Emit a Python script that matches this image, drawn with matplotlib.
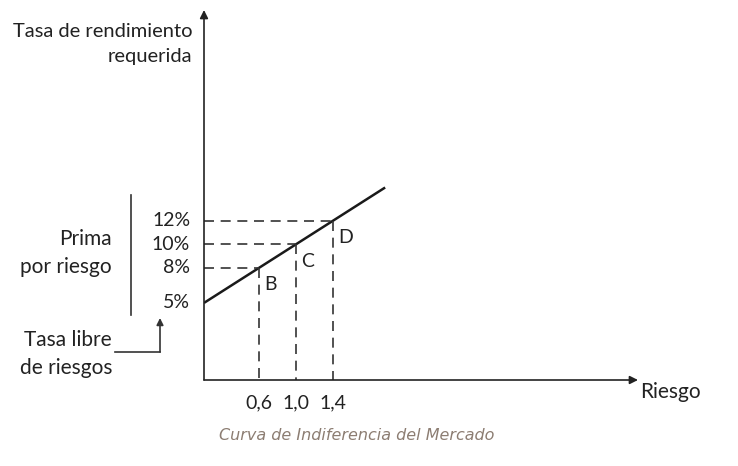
import matplotlib
matplotlib.use("Agg")
import matplotlib.pyplot as plt

plt.rcParams['font.family'] = ['Lato', 'DejaVu Sans']

# data: SML points (beta, required return %)
betas = [0.6, 1.0, 1.4]
returns = [8, 10, 12]
point_names = ["B", "C", "D"]
beta_labels = ["0,6", "1,0", "1,4"]
risk_free = 5
line_end = 1.97
ytick_vals = [12, 10, 8, 5]
ytick_labels = ["12%", "10%", "8%", "5%"]

W, H = 738, 466
fig = plt.figure(figsize=(W / 100, H / 100), dpi=100)


def fx(x, y):
    # pixel -> figure fraction
    return x / W, 1 - y / H


ax = fig.add_axes([204 / W, (H - 380) / H, (638 - 204) / W, (380 - 10) / H])
ax.set_xlim(0, 4.72)
ax.set_ylim(-1.58, 30.0)
ax.axis('off')

ink = "#222222"

# axes arrows
ax.annotate("", xy=(0, 30.0), xytext=(0, -1.58),
            arrowprops=dict(arrowstyle="-|>", color=ink, lw=1.2,
                            mutation_scale=12, shrinkA=0, shrinkB=0))
ax.annotate("", xy=(4.72, -1.58), xytext=(0, -1.58),
            arrowprops=dict(arrowstyle="-|>", color=ink, lw=1.2,
                            mutation_scale=12, shrinkA=0, shrinkB=0))

# market line
slope = (returns[1] - risk_free) / betas[1]
ax.plot([0, line_end], [risk_free, risk_free + slope * line_end],
        color="#1a1a1a", lw=1.8, solid_capstyle='butt')

# dashed guides
for b, r, name, lab in zip(betas, returns, point_names, beta_labels):
    ax.plot([0, b], [r, r], color="#333333", lw=1.2, ls=(0, (6, 4)))
    ax.plot([b, b], [r, -1.58], color="#333333", lw=1.2, ls=(0, (6, 4)))
    ax.annotate(name, (b, r), xytext=(4, -6), textcoords='offset points',
                ha='left', va='top', fontsize=14, color=ink)
    ax.annotate(lab, (b, -1.58), xytext=(0, -10), textcoords='offset points',
                ha='center', va='top', fontsize=14, color=ink)

# y labels
for v, lab in zip(ytick_vals, ytick_labels):
    ax.annotate(lab, (0, v), xytext=(-10, 0), textcoords='offset points',
                ha='right', va='center', fontsize=14, color=ink)

# texts around
fig.text(*fx(192, 44), "Tasa de rendimiento\nrequerida", ha='right', va='center',
         fontsize=14.5, color=ink, linespacing=1.55)
fig.text(*fx(640, 392), "Riesgo", ha='left', va='center', fontsize=15, color=ink)
fig.text(*fx(112, 253), "Prima\npor riesgo", ha='right', va='center',
         fontsize=15, color=ink, linespacing=1.5)
fig.text(*fx(112, 354), "Tasa libre\nde riesgos", ha='right', va='center',
         fontsize=15, color=ink, linespacing=1.5)

# bracket line and arrow for risk free label
fig.add_artist(plt.Line2D([131 / W, 131 / W], [1 - 195 / H, 1 - 315 / H],
                          color="#333333", lw=1.2))
fig.add_artist(plt.Line2D([115 / W, 160 / W], [1 - 352 / H, 1 - 352 / H],
                          color="#333333", lw=1.2))
fig.patches.append(matplotlib.patches.FancyArrowPatch(
    fx(160, 352), fx(160, 318), transform=fig.transFigure, arrowstyle="-|>",
    mutation_scale=10, color="#333333", lw=1.2, shrinkA=0, shrinkB=0))

fig.text(*fx(357, 436), "Curva de Indiferencia del Mercado", ha='center', va='center',
         fontsize=11.5, style='italic', color="#8c7d72", family=['DejaVu Sans'])

fig.savefig("out.png", dpi=100)
